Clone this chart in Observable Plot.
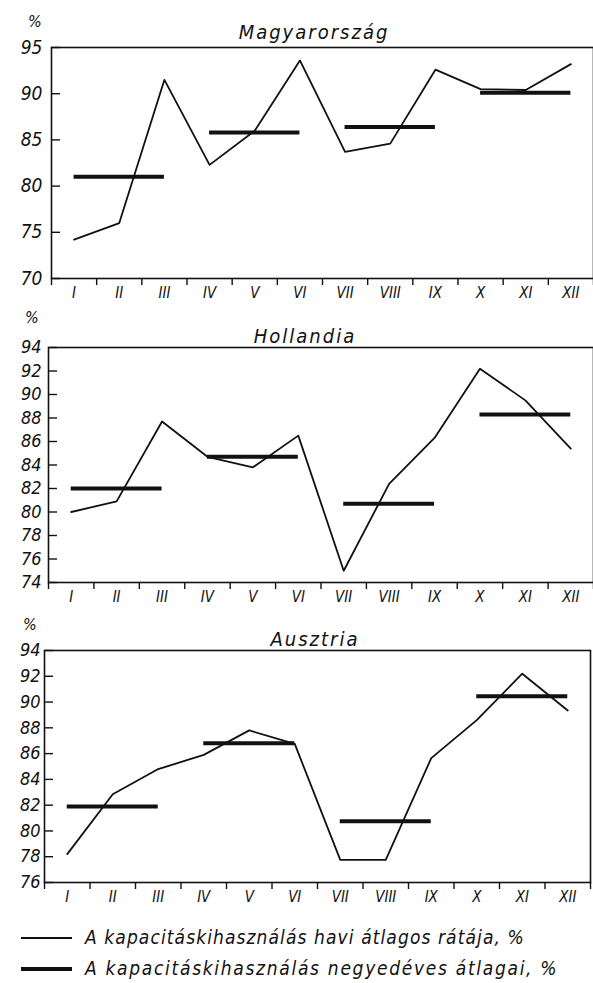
<!DOCTYPE html>
<html><head><meta charset="utf-8">
<script src="https://cdn.jsdelivr.net/npm/d3@7"></script>
<script src="https://cdn.jsdelivr.net/npm/@observablehq/plot@0.6"></script>
<style>
body{margin:0;background:#fff;width:593px;height:983px;overflow:hidden;position:relative;font-family:"DejaVu Sans Condensed","DejaVu Sans",sans-serif;font-style:italic;color:#111}
.panel{position:absolute;left:0}
.panel text{font-style:italic}
.pct{position:absolute;font-size:16px;line-height:1}
.title{position:absolute;font-size:20px;letter-spacing:2px;line-height:1;transform:translateX(-50%);white-space:nowrap}
.legend{position:absolute;left:0;width:593px;font-size:19px;line-height:1;white-space:nowrap}
.legend .sw{position:absolute;left:21px;width:51px;background:#111}
.legend .tx{position:absolute;left:85px}
</style></head><body>
<script>
const months = ["I","II","III","IV","V","VI","VII","VIII","IX","X","XI","XII"];
const hungaryMonthly = [74.2,76.0,91.5,82.3,86.0,93.6,83.7,84.6,92.6,90.5,90.4,93.2];
const hungaryQuarterly = [81.0,85.8,86.4,90.1];
const netherlandsMonthly = [80.0,80.9,87.7,84.7,83.8,86.5,75.0,82.4,86.3,92.2,89.5,85.4];
const netherlandsQuarterly = [82.0,84.7,80.7,88.3];
const austriaMonthly = [78.2,82.85,84.8,85.9,87.8,86.75,77.75,77.75,85.65,88.6,92.2,89.35];
const austriaQuarterly = [81.9,86.8,80.75,90.45];
const hungaryTicks = [70,75,80,85,90,95];
const netherlandsTicks = [74,76,78,80,82,84,86,88,90,92,94];
const austriaTicks = [76,78,80,82,84,86,88,90,92,94];
const titles = ["Magyarország","Hollandia","Ausztria"];
const legendLabels = ["A kapacitáskihasználás havi átlagos rátája, %","A kapacitáskihasználás negyedéves átlagai, %"];

const ink = "#111";
const panels = [
  {monthly:hungaryMonthly, quarterly:hungaryQuarterly, ticks:hungaryTicks, title:titles[0],
   top:0, marginTop:47, plotH:231, marginLeft:51, marginRight:0, yFont:19, tickPad:9,
   titleX:314, titleY:22, pctX:28, pctY:14},
  {monthly:netherlandsMonthly, quarterly:netherlandsQuarterly, ticks:netherlandsTicks, title:titles[1],
   top:310, marginTop:37, plotH:235, marginLeft:48, marginRight:0, yFont:18, tickPad:7,
   titleX:305, titleY:326, pctX:25, pctY:310},
  {monthly:austriaMonthly, quarterly:austriaQuarterly, ticks:austriaTicks, title:titles[2],
   top:615, marginTop:35, plotH:232, marginLeft:44, marginRight:3, yFont:18, tickPad:4,
   titleX:315, titleY:629, pctX:23, pctY:617}
];

const W = 593;
const MB = 30;
const boundaries = months.map((_, i) => i + 0.5).concat([months.length + 0.5]);

for (const p of panels) {
  const monthly = months.map((m, i) => ({idx: i + 1, label: m, value: p.monthly[i]}));
  const quarterly = p.quarterly.map((v, k) => ({start: 3 * k + 1, end: 3 * k + 3, value: v}));
  const plotW = W - p.marginLeft - p.marginRight;
  const chart = Plot.plot({
    width: W,
    height: p.marginTop + p.plotH + MB,
    marginTop: p.marginTop,
    marginBottom: MB,
    marginLeft: p.marginLeft,
    marginRight: p.marginRight,
    style: {fontFamily: '"DejaVu Sans Condensed","DejaVu Sans",sans-serif', fontStyle: "italic", color: ink, background: "transparent", overflow: "visible"},
    x: {domain: [0.5, months.length + 0.5]},
    y: {domain: [p.ticks[0], p.ticks[p.ticks.length - 1]]},
    marks: [
      Plot.frame({stroke: ink, strokeWidth: 1.6}),
      Plot.ruleY(p.ticks, {stroke: ink, strokeWidth: 1.4, insetRight: plotW - 9}),
      Plot.axisY({ticks: p.ticks, tickSize: 0, tickPadding: p.tickPad, fontSize: p.yFont, fontStyle: "italic", fill: ink, label: null}),
      Plot.axisX({ticks: boundaries, tickSize: 7, tickFormat: () => "", stroke: ink, strokeWidth: 1.4, label: null}),
      Plot.axisX({ticks: monthly.map(d => d.idx), tickSize: 0, tickPadding: 9, tickFormat: i => months[i - 1], fontSize: 15, fontStyle: "italic", fill: ink, label: null}),
      Plot.line(monthly, {x: "idx", y: "value", stroke: ink, strokeWidth: 1.8}),
      Plot.ruleY(quarterly, {y: "value", x1: "start", x2: "end", stroke: ink, strokeWidth: 4})
    ]
  });
  chart.classList.add("panel");
  chart.style.top = p.top + "px";
  document.body.appendChild(chart);

  const pct = document.createElement("div");
  pct.className = "pct"; pct.textContent = "%";
  pct.style.left = p.pctX + "px"; pct.style.top = p.pctY + "px";
  document.body.appendChild(pct);

  const t = document.createElement("div");
  t.className = "title"; t.textContent = p.title;
  t.style.left = p.titleX + "px"; t.style.top = p.titleY + "px";
  document.body.appendChild(t);
}

const legendTops = [928, 959];
const legendWidths = [1.6, 4];
const legendSpacing = [1.1, 1.7];
legendLabels.forEach((lab, i) => {
  const row = document.createElement("div");
  row.className = "legend";
  row.style.top = legendTops[i] + "px";
  const sw = document.createElement("div");
  sw.className = "sw";
  sw.style.height = legendWidths[i] + "px";
  sw.style.top = (10 - legendWidths[i] / 2) + "px";
  const tx = document.createElement("div");
  tx.className = "tx"; tx.textContent = lab;
  tx.style.letterSpacing = legendSpacing[i] + "px";
  row.appendChild(sw); row.appendChild(tx);
  document.body.appendChild(row);
});
</script>
</body></html>
